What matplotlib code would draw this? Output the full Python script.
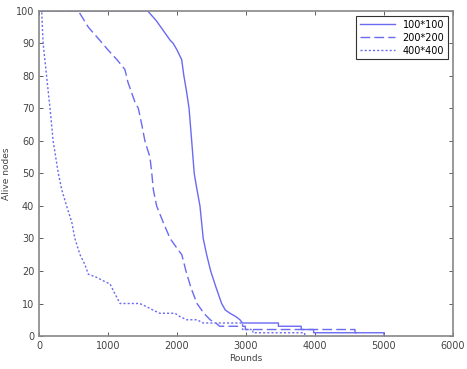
import numpy as np
import matplotlib.pyplot as plt

# alive nodes vs rounds (tails given as flat steps)
rounds_100 = [0, 1575, 1700, 1800, 1900, 1945, 2000, 2068, 2100, 2140, 2175, 2213, 2250,
              2290, 2333, 2380, 2430, 2488, 2565, 2647, 2700, 2768, 2850, 2912, 2950,
              3470, 3470, 3800, 3800, 3980, 3980, 5000, 5000]
nodes_100 = [100, 100, 97, 94, 91, 90, 88, 85, 80, 75, 70, 60, 50,
             45, 40, 30, 25, 20, 15, 10, 8, 7, 6, 5, 4,
             4, 3, 3, 2, 2, 1, 1, 0]

rounds_200 = [0, 570, 715, 880, 1000, 1130, 1245, 1290, 1390, 1440, 1490, 1535, 1608,
              1635, 1657, 1705, 1800, 1900, 2000, 2070, 2130, 2200, 2290, 2390, 2480,
              2560, 2620, 2990, 2990, 4580, 4580, 4620, 4620]
nodes_200 = [100, 100, 95, 91, 88, 85, 82, 78, 72, 70, 65, 60, 55,
             50, 45, 40, 35, 30, 27, 25, 20, 15, 10, 7, 5,
             4, 3, 3, 2, 2, 1, 1, 0]

rounds_400 = [0, 39, 60, 110, 160, 205, 280, 330, 400, 475, 520, 595, 665, 715,
              840, 930, 1030, 1100, 1175, 1460, 1560, 1650, 1750, 1970, 2040, 2140,
              2290, 2380, 2950, 2950, 3100, 3100, 3850, 3850]
nodes_400 = [100, 100, 90, 80, 70, 60, 50, 45, 40, 35, 30, 25, 22, 19,
             18, 17, 16, 13, 10, 10, 9, 8, 7, 7, 6, 5,
             5, 4, 4, 2, 2, 1, 1, 0]

labels = ['100*100', '200*200', '400*400']
col = '#6a6af2'

fig = plt.figure(figsize=(4.67, 3.69), dpi=100)
ax = fig.add_axes([0.0835, 0.0894, 0.8865, 0.881])

ax.plot(rounds_100, nodes_100, color=col, lw=1.0, label=labels[0])
ax.plot(rounds_200, nodes_200, color=col, lw=1.0, dashes=(7, 3), label=labels[1])
ax.plot(rounds_400, nodes_400, color=col, lw=1.0, dashes=(1.5, 1.5), label=labels[2])

ax.set_xlim(0, 6000)
ax.set_ylim(0, 100)
ax.set_xticks(np.arange(0, 6001, 1000))
ax.set_yticks(np.arange(0, 101, 10))
ax.tick_params(direction='in', top=True, right=True, labelsize=7, colors='#444444',
               length=3, width=0.6)
for s in ax.spines.values():
    s.set_color('#888888')
    s.set_linewidth(1.2)

ax.set_xlabel('Rounds', fontsize=6.5, color='#444444', labelpad=2)
ax.set_ylabel('Alive nodes', fontsize=6.5, color='#444444')
ax.yaxis.set_label_coords(-0.068, 0.5)

leg = ax.legend(loc='upper right', fontsize=7, fancybox=False, framealpha=1,
                edgecolor='#333333', handlelength=3.6, borderpad=0.4,
                labelspacing=0.3, borderaxespad=0.5)
leg.get_frame().set_linewidth(0.8)

fig.savefig('out.png', dpi=100)
